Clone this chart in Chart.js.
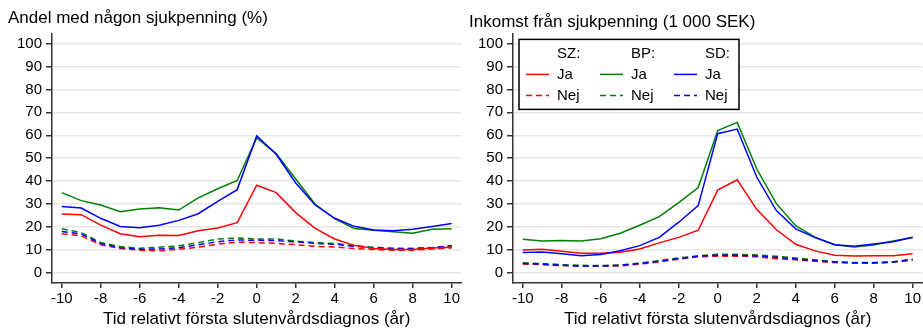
<!DOCTYPE html>
<html>
<head>
<meta charset="utf-8">
<script src="https://cdn.jsdelivr.net/npm/chart.js@4.4.1/dist/chart.umd.min.js"></script>
<style>
  html, body { margin: 0; padding: 0; background: #fff; }
  #wrap { position: relative; width: 923px; height: 330px; }
  .panel { position: absolute; top: 0; height: 330px; }
  #left { left: 0; width: 462px; }
  #right { left: 462px; width: 461px; }
</style>
</head>
<body>
<div id="wrap">
  <div class="panel" id="left"><canvas id="chartLeft" width="462" height="330"></canvas></div>
  <div class="panel" id="right"><canvas id="chartRight" width="461" height="330"></canvas></div>
</div>
<script>
const years = [-10, -9, -8, -7, -6, -5, -4, -3, -2, -1, 0, 1, 2, 3, 4, 5, 6, 7, 8, 9, 10];
const xTicks = [-10, -8, -6, -4, -2, 0, 2, 4, 6, 8, 10];
const yTicks = [0, 10, 20, 30, 40, 50, 60, 70, 80, 90, 100];
const groups = ['SZ:', 'BP:', 'SD:'];
const groupColors = ['#ff0000', '#008000', '#0000ff'];
const rows = ['Ja', 'Nej'];

// Andel med någon sjukpenning (%)
const andelSzJa = [25.7, 25.4, 20.8, 17.1, 15.8, 16.4, 16.3, 18.4, 19.6, 21.9, 38.2, 35.0, 26.3, 19.4, 14.8, 12.0, 10.6, 10.2, 10.2, 10.9, 11.2];
const andelBpJa = [35.0, 31.5, 29.6, 26.7, 27.9, 28.4, 27.4, 32.7, 36.7, 40.3, 58.8, 52.0, 40.9, 29.9, 23.7, 19.4, 18.6, 17.9, 17.3, 19.0, 19.3];
const andelSdJa = [28.9, 28.3, 23.8, 20.2, 19.7, 20.8, 22.9, 25.8, 31.2, 36.3, 59.7, 51.7, 39.2, 29.6, 23.8, 20.3, 18.7, 18.4, 19.0, 20.2, 21.5];
const andelSzNej = [17.1, 16.1, 12.3, 10.6, 9.9, 9.6, 10.3, 11.2, 12.5, 13.4, 13.2, 12.9, 12.3, 11.6, 11.3, 10.6, 10.2, 9.9, 9.9, 10.4, 10.9];
const andelBpNej = [19.2, 17.6, 13.2, 11.5, 10.7, 11.2, 11.8, 13.2, 14.8, 15.2, 14.8, 14.8, 13.9, 13.2, 12.8, 11.9, 11.2, 10.7, 10.6, 11.0, 11.6];
const andelSdNej = [18.1, 17.0, 12.8, 11.0, 10.3, 10.4, 11.0, 12.3, 13.6, 14.4, 14.2, 14.1, 13.5, 12.9, 12.5, 11.6, 10.9, 10.6, 10.6, 11.0, 11.9];

// Inkomst från sjukpenning (1 000 SEK)
const inkSzJa = [10.0, 10.3, 9.4, 8.6, 8.6, 9.0, 10.4, 13.1, 15.5, 18.6, 36.1, 40.6, 27.7, 18.9, 12.5, 9.6, 7.7, 7.4, 7.5, 7.5, 8.3];
const inkBpJa = [14.7, 13.9, 14.1, 13.9, 14.9, 17.3, 20.8, 24.5, 30.6, 37.2, 62.1, 65.6, 45.4, 30.3, 20.6, 15.5, 12.3, 11.3, 12.2, 13.9, 15.4];
const inkSdJa = [8.9, 9.1, 8.3, 7.5, 8.0, 9.7, 11.9, 15.5, 22.1, 29.3, 60.7, 62.7, 41.8, 27.3, 19.2, 15.4, 12.3, 11.6, 12.6, 13.6, 15.5];
const inkSzNej = [3.9, 3.6, 3.2, 2.9, 2.9, 3.0, 3.8, 4.8, 6.0, 7.0, 7.3, 7.3, 7.0, 6.2, 5.7, 5.1, 4.5, 4.2, 4.2, 4.6, 5.5];
const inkBpNej = [4.4, 4.1, 3.6, 3.3, 3.2, 3.5, 4.2, 5.4, 6.5, 7.5, 8.1, 8.1, 7.8, 7.3, 6.5, 5.7, 4.9, 4.5, 4.5, 4.8, 5.8];
const inkSdNej = [4.1, 3.8, 3.3, 3.0, 3.0, 3.3, 4.1, 5.1, 6.2, 7.3, 7.7, 7.7, 7.4, 6.8, 6.1, 5.4, 4.8, 4.4, 4.4, 4.8, 6.0];

const FONT = '"Liberation Sans", Arial, sans-serif';
Chart.defaults.font.family = FONT;
Chart.defaults.font.size = 15;
Chart.defaults.color = '#000';

const dashNej = [6, 4];

function buildDatasets(series) {
  // series[g][r] -> values
  const out = [];
  groups.forEach((g, gi) => {
    rows.forEach((r, ri) => {
      out.push({
        label: g + ' ' + r,
        data: years.map((yr, i) => ({ x: yr, y: series[gi][ri][i] })),
        borderColor: groupColors[gi],
        borderWidth: 1.5,
        borderDash: ri === 1 ? dashNej : [],
        pointRadius: 0,
        tension: 0,
        fill: false,
        order: (groups.length - 1 - gi) + ri * 3
      });
    });
  });
  return out;
}

const legendBox = {
  id: 'legendBox',
  afterDraw(chart) {
    const { ctx, chartArea } = chart;
    const x0 = chartArea.left + 6;
    const y0 = chartArea.top + 6;
    const w = 220, h = 70;
    ctx.save();
    ctx.fillStyle = '#fff';
    ctx.fillRect(x0, y0, w, h);
    ctx.strokeStyle = '#000';
    ctx.lineWidth = 1.5;
    ctx.strokeRect(x0, y0, w, h);
    ctx.font = '15px ' + FONT;
    ctx.textBaseline = 'middle';
    groups.forEach((g, gi) => {
      const cx = x0 + 7 + gi * 74;
      ctx.fillStyle = '#000';
      ctx.fillText(g, cx + 31, y0 + 14);
      rows.forEach((r, ri) => {
        const ds = chart.data.datasets[gi * rows.length + ri];
        const ly = y0 + 35 + ri * 21;
        ctx.strokeStyle = ds.borderColor;
        ctx.lineWidth = 1.5;
        ctx.setLineDash(ds.borderDash);
        ctx.beginPath();
        ctx.moveTo(cx, ly);
        ctx.lineTo(cx + 23, ly);
        ctx.stroke();
        ctx.setLineDash([]);
        ctx.fillStyle = '#000';
        ctx.fillText(r, cx + 31, ly);
      });
    });
    ctx.restore();
  }
};

function makePanel(canvasId, titleText, titlePad, padLeft, series, withLegend) {
  return new Chart(document.getElementById(canvasId), {
    type: 'line',
    data: { datasets: buildDatasets(series) },
    options: {
      responsive: false,
      animation: false,
      layout: { padding: { left: padLeft, right: 0, top: 0, bottom: 0 } },
      plugins: {
        legend: { display: false },
        tooltip: { enabled: false },
        title: {
          display: true,
          text: titleText,
          align: 'start',
          color: '#000',
          font: { size: 17, weight: 'normal' },
          padding: titlePad
        }
      },
      scales: {
        x: {
          type: 'linear',
          min: -10.5,
          max: 10.5,
          afterBuildTicks: (s) => { s.ticks = xTicks.map(v => ({ value: v })); },
          afterFit: (s) => { s.height = 47; },
          ticks: { padding: 2, color: '#000', font: { size: 15 }, maxRotation: 0 },
          grid: { drawOnChartArea: false, drawTicks: true, tickLength: 5, tickColor: '#333', lineWidth: 1.5 },
          border: { display: true, color: '#333', width: 1.5 },
          title: {
            display: true,
            text: 'Tid relativt första slutenvårdsdiagnos (år)',
            color: '#000',
            font: { size: 17 },
            padding: { top: 0, bottom: 0 }
          }
        },
        y: {
          min: -4.4,
          max: 104.4,
          afterBuildTicks: (s) => { s.ticks = yTicks.map(v => ({ value: v })); },
          afterFit: (s) => { s.width = 44; },
          ticks: { padding: 4, color: '#000', font: { size: 15 } },
          grid: { color: '#e6e6e6', lineWidth: 1.5, tickLength: 6, tickColor: '#333' },
          border: { display: true, color: '#333', width: 1.5 }
        }
      }
    },
    plugins: withLegend ? [legendBox] : []
  });
}

makePanel('chartLeft', 'Andel med någon sjukpenning (%)', { top: 8, bottom: 5 }, 8,
  [[andelSzJa, andelSzNej], [andelBpJa, andelBpNej], [andelSdJa, andelSdNej]], false);

makePanel('chartRight', 'Inkomst från sjukpenning (1 000 SEK)', { top: 12, bottom: 1 }, 7,
  [[inkSzJa, inkSzNej], [inkBpJa, inkBpNej], [inkSdJa, inkSdNej]], true);
</script>
</body>
</html>
